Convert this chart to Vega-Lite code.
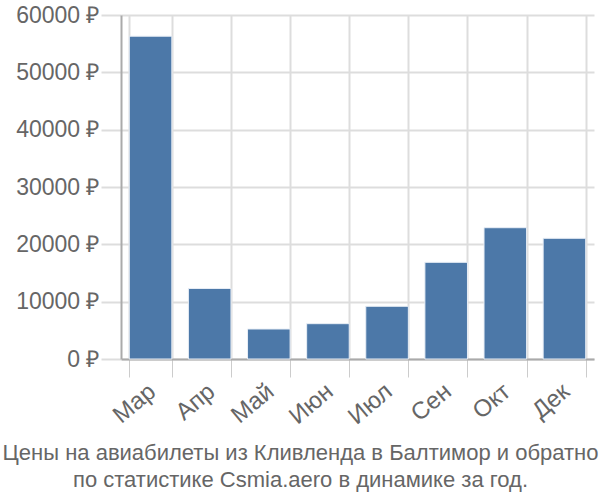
{
  "$schema": "https://vega.github.io/schema/vega-lite/v6.json",
  "autosize": "none",
  "width": 473,
  "height": 344,
  "padding": {"left": 121, "top": 15, "right": 6, "bottom": 141},
  "background": "white",
  "title": {
    "text": ["Цены на авиабилеты из Кливленда в Балтимор и обратно", "по статистике Csmia.aero в динамике за год."],
    "orient": "bottom",
    "anchor": "middle",
    "font": "Liberation Sans",
    "fontSize": 22,
    "fontWeight": "normal",
    "color": "#666666",
    "lineHeight": 27,
    "offset": 14,
    "dx": -57
  },
  "data": {
    "values": [
      {"month": "Мар", "price": 56300},
      {"month": "Апр", "price": 12300},
      {"month": "Май", "price": 5230},
      {"month": "Июн", "price": 6160},
      {"month": "Июл", "price": 9190},
      {"month": "Сен", "price": 16860},
      {"month": "Окт", "price": 22900},
      {"month": "Дек", "price": 21050}
    ]
  },
  "mark": {"type": "bar", "color": "#4c78a8", "stroke": "#e8eef6", "strokeWidth": 1},
  "encoding": {
    "x": {
      "field": "month",
      "type": "nominal",
      "sort": null,
      "title": null,
      "scale": {"paddingInner": 0.28, "paddingOuter": 0.14},
      "axis": {
        "labelAngle": -40,
        "labelAlign": "right",
        "labelBaseline": "top",
        "labelFont": "Liberation Sans",
        "labelFontSize": 24,
        "labelColor": "#666666",
        "labelPadding": 2,
        "labelOverlap": false,
        "labelOffset": -6,
        "tickBand": "extent",
        "tickSize": 18,
        "tickColor": "#cccccc",
        "domainColor": "#aaaaaa",
        "domainWidth": 2,
        "grid": true,
        "gridColor": "#dddddd",
        "gridWidth": 2
      }
    },
    "y": {
      "field": "price",
      "type": "quantitative",
      "title": null,
      "scale": {"domain": [0, 60000], "nice": false},
      "axis": {
        "values": [0, 10000, 20000, 30000, 40000, 50000, 60000],
        "labelExpr": "datum.value + ' ₽'",
        "labelFont": "Liberation Sans",
        "labelFontSize": 23,
        "labelColor": "#666666",
        "labelPadding": 2,
        "tickSize": 20,
        "tickColor": "#dddddd",
        "tickWidth": 2,
        "domainColor": "#aaaaaa",
        "domainWidth": 2,
        "gridColor": "#dddddd",
        "gridWidth": 2
      }
    }
  },
  "config": {"view": {"stroke": null}}
}
